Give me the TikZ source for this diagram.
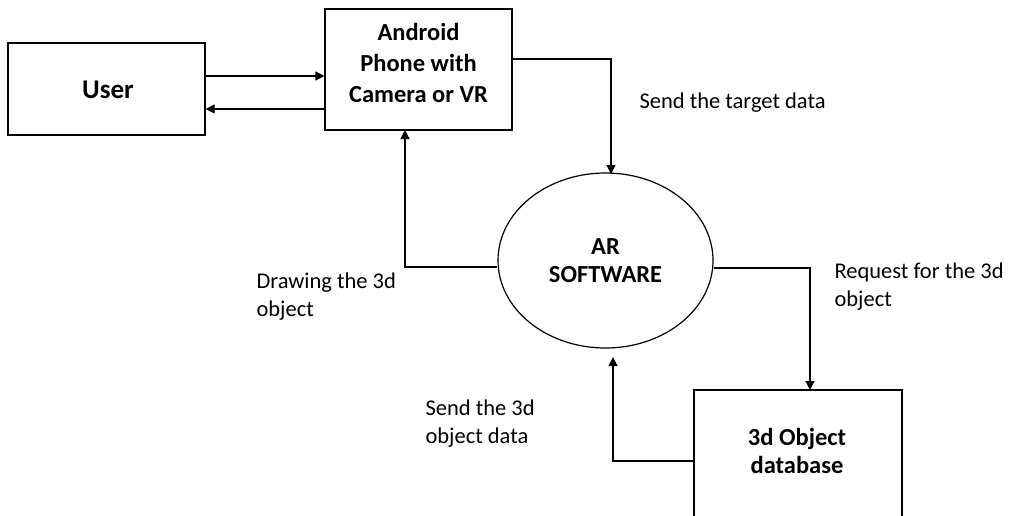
\documentclass[tikz,border=0pt]{standalone}
\usepackage{fontspec}
\setmainfont{Carlito}
\usetikzlibrary{arrows.meta,shapes.geometric}
\begin{document}
\begin{tikzpicture}[x=1pt,y=-1pt,
  box/.style={draw, line width=1.2pt, inner sep=0pt},
  flow/.style={draw, line width=1.2pt, -{Triangle[length=9pt,width=9pt]}},
  bold/.style={font=\fontsize{24.5}{31}\selectfont\bfseries, align=center},
  lbl/.style={font=\fontsize{22.5}{28}\selectfont, align=left, anchor=west}]
\useasboundingbox (0,0) rectangle (1011,516);
% boxes
\node[box, minimum width=197pt, minimum height=92pt] (user) at (106.5,89) {};
\node[font=\fontsize{27}{32}\selectfont\bfseries] (usert) at (108,90) {User};
\node[box, minimum width=187pt, minimum height=121pt] (android) at (418.5,69.5) {};
\node[bold] (androidt) at (418.5,63) {Android\\Phone with\\Camera or VR};
\node[box, ellipse, minimum width=215pt, minimum height=175pt] (ar) at (605.5,260.5) {};
\node[bold, font=\fontsize{24.5}{28}\selectfont\bfseries] (art) at (605.5,261) {AR\\SOFTWARE};
\node[box, minimum width=208pt, minimum height=150pt] (db) at (798,465) {};
\node[bold, font=\fontsize{24.5}{28}\selectfont\bfseries] (dbt) at (797,451) {3d Object\\database};
% connectors
\coordinate (c1) at (611,174);
\coordinate (c2) at (405,130);
\coordinate (c3) at (810,390);
\coordinate (c4) at (613,357);
\draw[flow] (user.east |- 0,76) -- (android.west |- 0,76);
\draw[flow] (android.west |- 0,109) -- (user.east |- 0,109);
\draw[flow] (android.east |- 0,59) -| (c1);
\draw[flow] ([yshift=-6.5pt]ar.west) -| (c2);
\draw[flow] ([yshift=-7.5pt]ar.east) -| (c3);
\draw[flow] (db.west |- 0,461) -| (c4);
% labels
\node[lbl] (l1) at (636,103) {Send the target data};
\node[lbl] (l2) at (253,297) {Drawing the 3d\\object};
\node[lbl] (l3) at (831,287) {Request for the 3d\\object};
\node[lbl] (l4) at (422,424) {Send the 3d\\object data};
\end{tikzpicture}
\end{document}
